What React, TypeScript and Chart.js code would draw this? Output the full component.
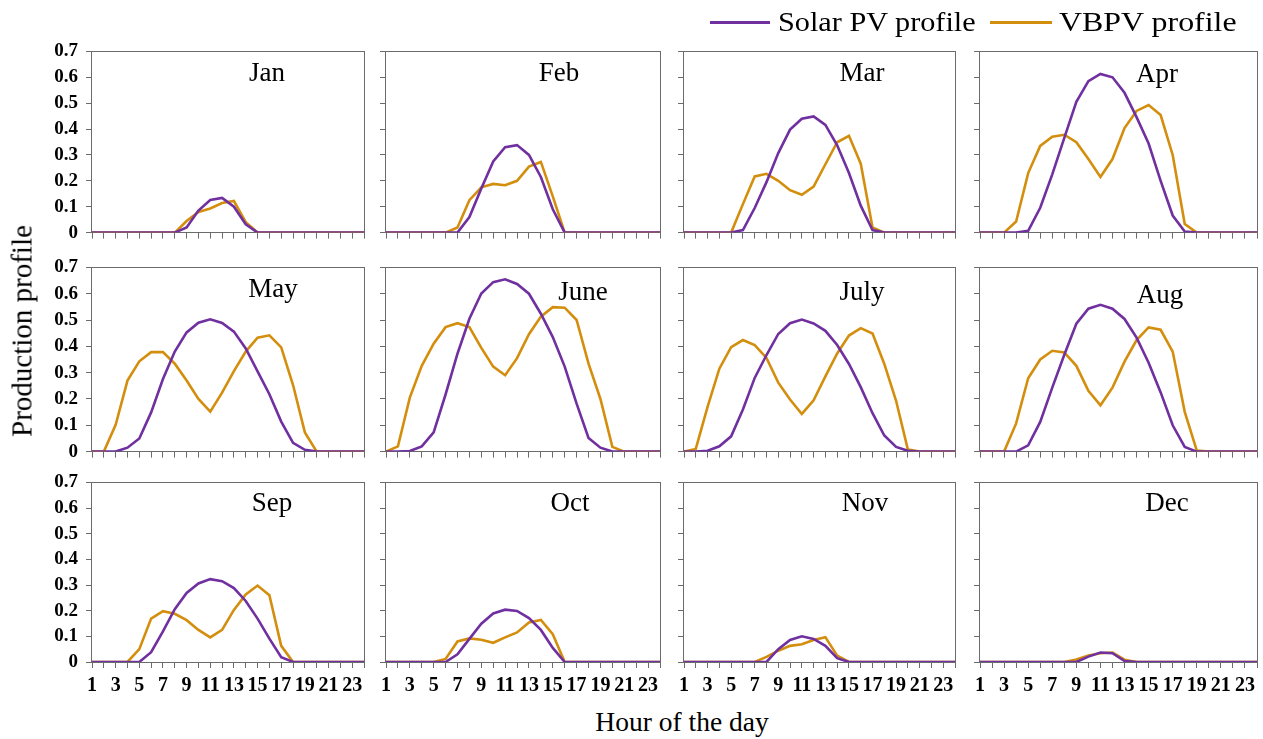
import React, { useEffect, useRef } from 'react';
import { Chart, registerables } from 'chart.js';

Chart.register(...registerables);

const HOURS = [1, 2, 3, 4, 5, 6, 7, 8, 9, 10, 11, 12, 13, 14, 15, 16, 17, 18, 19, 20, 21, 22, 23, 24];
const X_TICK_LABELS = ['1', '3', '5', '7', '9', '11', '13', '15', '17', '19', '21', '23'];
const MONTHS = ['Jan', 'Feb', 'Mar', 'Apr', 'May', 'June', 'July', 'Aug', 'Sep', 'Oct', 'Nov', 'Dec'];

// Solar PV profile (purple)
const SOLAR_JAN = [0, 0, 0, 0, 0, 0, 0, 0, 0.02, 0.085, 0.126, 0.134, 0.1, 0.032, 0, 0, 0, 0, 0, 0, 0, 0, 0, 0];
const SOLAR_FEB = [0, 0, 0, 0, 0, 0, 0, 0.06, 0.17, 0.275, 0.33, 0.338, 0.3, 0.215, 0.09, 0, 0, 0, 0, 0, 0, 0, 0, 0];
const SOLAR_MAR = [0, 0, 0, 0, 0, 0.01, 0.095, 0.195, 0.307, 0.398, 0.44, 0.449, 0.416, 0.337, 0.23, 0.104, 0.01, 0, 0, 0, 0, 0, 0, 0];
const SOLAR_APR = [0, 0, 0, 0, 0.007, 0.096, 0.225, 0.366, 0.505, 0.585, 0.613, 0.6, 0.54, 0.446, 0.344, 0.2, 0.066, 0.004, 0, 0, 0, 0, 0, 0];
const SOLAR_MAY = [0, 0, 0, 0.015, 0.05, 0.149, 0.276, 0.38, 0.453, 0.49, 0.503, 0.489, 0.456, 0.392, 0.305, 0.218, 0.114, 0.033, 0.007, 0, 0, 0, 0, 0];
const SOLAR_JUN = [0, 0, 0.002, 0.02, 0.073, 0.217, 0.372, 0.505, 0.601, 0.644, 0.655, 0.637, 0.6, 0.524, 0.435, 0.323, 0.182, 0.052, 0.015, 0, 0, 0, 0, 0];
const SOLAR_JUL = [0, 0, 0.003, 0.02, 0.058, 0.16, 0.28, 0.367, 0.447, 0.488, 0.502, 0.487, 0.459, 0.405, 0.333, 0.245, 0.146, 0.061, 0.018, 0.003, 0, 0, 0, 0];
const SOLAR_AUG = [0, 0, 0, 0, 0.024, 0.113, 0.243, 0.368, 0.486, 0.543, 0.558, 0.543, 0.504, 0.433, 0.338, 0.225, 0.1, 0.018, 0, 0, 0, 0, 0, 0];
const SOLAR_SEP = [0, 0, 0, 0, 0, 0.038, 0.119, 0.206, 0.269, 0.306, 0.323, 0.315, 0.288, 0.238, 0.169, 0.091, 0.019, 0, 0, 0, 0, 0, 0, 0];
const SOLAR_OCT = [0, 0, 0, 0, 0, 0, 0.03, 0.09, 0.149, 0.189, 0.204, 0.199, 0.171, 0.125, 0.055, 0, 0, 0, 0, 0, 0, 0, 0, 0];
const SOLAR_NOV = [0, 0, 0, 0, 0, 0, 0, 0, 0.05, 0.086, 0.1, 0.09, 0.063, 0.015, 0, 0, 0, 0, 0, 0, 0, 0, 0, 0];
const SOLAR_DEC = [0, 0, 0, 0, 0, 0, 0, 0, 0, 0.021, 0.037, 0.034, 0.004, 0, 0, 0, 0, 0, 0, 0, 0, 0, 0, 0];

// VBPV profile (orange)
const VBPV_JAN = [0, 0, 0, 0, 0, 0, 0, 0, 0.045, 0.08, 0.093, 0.114, 0.122, 0.04, 0, 0, 0, 0, 0, 0, 0, 0, 0, 0];
const VBPV_FEB = [0, 0, 0, 0, 0, 0, 0.02, 0.125, 0.175, 0.188, 0.183, 0.2, 0.255, 0.273, 0.14, 0, 0, 0, 0, 0, 0, 0, 0, 0];
const VBPV_MAR = [0, 0, 0, 0, 0, 0.11, 0.217, 0.227, 0.2, 0.164, 0.146, 0.178, 0.264, 0.349, 0.374, 0.266, 0.02, 0, 0, 0, 0, 0, 0, 0];
const VBPV_APR = [0, 0, 0, 0.043, 0.23, 0.335, 0.37, 0.378, 0.349, 0.284, 0.215, 0.284, 0.404, 0.47, 0.493, 0.454, 0.3, 0.033, 0, 0, 0, 0, 0, 0];
const VBPV_MAY = [0, 0, 0.102, 0.27, 0.343, 0.378, 0.378, 0.334, 0.27, 0.2, 0.152, 0.224, 0.306, 0.38, 0.433, 0.442, 0.396, 0.253, 0.073, 0, 0, 0, 0, 0];
const VBPV_JUN = [0, 0.02, 0.205, 0.326, 0.41, 0.473, 0.488, 0.473, 0.394, 0.323, 0.29, 0.355, 0.446, 0.513, 0.549, 0.547, 0.5, 0.334, 0.2, 0.018, 0, 0, 0, 0];
const VBPV_JUL = [0, 0.01, 0.17, 0.315, 0.397, 0.424, 0.405, 0.356, 0.262, 0.198, 0.143, 0.195, 0.286, 0.373, 0.441, 0.469, 0.449, 0.333, 0.193, 0.008, 0, 0, 0, 0];
const VBPV_AUG = [0, 0, 0, 0.107, 0.279, 0.35, 0.383, 0.377, 0.326, 0.231, 0.176, 0.243, 0.342, 0.424, 0.472, 0.463, 0.38, 0.151, 0.004, 0, 0, 0, 0, 0];
const VBPV_SEP = [0, 0, 0, 0, 0.05, 0.169, 0.198, 0.188, 0.163, 0.125, 0.096, 0.125, 0.203, 0.263, 0.298, 0.26, 0.063, 0, 0, 0, 0, 0, 0, 0];
const VBPV_OCT = [0, 0, 0, 0, 0, 0.012, 0.08, 0.092, 0.087, 0.075, 0.096, 0.115, 0.154, 0.164, 0.108, 0, 0, 0, 0, 0, 0, 0, 0, 0];
const VBPV_NOV = [0, 0, 0, 0, 0, 0, 0, 0.02, 0.044, 0.063, 0.069, 0.086, 0.097, 0.025, 0, 0, 0, 0, 0, 0, 0, 0, 0, 0];
const VBPV_DEC = [0, 0, 0, 0, 0, 0, 0, 0, 0.01, 0.025, 0.034, 0.037, 0.009, 0, 0, 0, 0, 0, 0, 0, 0, 0, 0, 0];

const SOLAR = [SOLAR_JAN, SOLAR_FEB, SOLAR_MAR, SOLAR_APR, SOLAR_MAY, SOLAR_JUN, SOLAR_JUL, SOLAR_AUG, SOLAR_SEP, SOLAR_OCT, SOLAR_NOV, SOLAR_DEC];
const VBPV = [VBPV_JAN, VBPV_FEB, VBPV_MAR, VBPV_APR, VBPV_MAY, VBPV_JUN, VBPV_JUL, VBPV_AUG, VBPV_SEP, VBPV_OCT, VBPV_NOV, VBPV_DEC];

const PURPLE = '#7030A0';
const ORANGE = '#D48E0D';
const AXIS_GREY = '#6b6b6b';
const SERIF = "'Liberation Serif', 'Times New Roman', serif";

// layout (page pixels)
const COL_X = [[92, 366], [386, 662], [684, 957], [980, 1259]];
const ROW_Y = [[44, 242], [260, 461], [475, 662]];
const LABEL_POS = [
  [267, 72], [559, 72], [862, 72], [1157, 73],
  [273, 288], [583, 291], [862, 291], [1160, 294],
  [272, 502], [570, 502], [865, 502], [1167, 502],
];

const boxPlugin = {
  id: 'panelBox',
  beforeDatasetsDraw(chart: any) {
    const { ctx, chartArea } = chart;
    const { left, top, right, bottom } = chartArea;
    ctx.save();
    ctx.strokeStyle = AXIS_GREY;
    ctx.lineWidth = 1;
    ctx.strokeRect(Math.round(left) - 0.5, Math.round(top) + 0.5, Math.round(right - left) + 1, Math.round(bottom - top));
    ctx.restore();
  },
};

function Panel({ idx }: { idx: number }) {
  const ref = useRef<HTMLCanvasElement | null>(null);
  const col = idx % 4;
  const row = Math.floor(idx / 4);
  const [px0, px1] = COL_X[col];
  const [py0, py1] = ROW_Y[row];
  const L = col === 0 ? 62 : 12;
  const T = 12;
  const R = 4;
  const B = row === 2 ? 42 : 10;
  const w = px1 - px0 + L + R;
  const h = py1 - py0 + T + B;
  const showX = row === 2;
  const showY = col === 0;

  useEffect(() => {
    const canvas = ref.current;
    if (!canvas) return;
    const chart = new Chart(canvas, {
      type: 'line',
      data: {
        datasets: [
          {
            label: 'Solar PV profile',
            data: HOURS.map((hr, i) => ({ x: hr, y: SOLAR[idx][i] })),
            borderColor: PURPLE,
            backgroundColor: PURPLE,
            borderWidth: 2.6,
            pointRadius: 0,
            tension: 0,
            fill: false,
          },
          {
            label: 'VBPV profile',
            data: HOURS.map((hr, i) => ({ x: hr, y: VBPV[idx][i] })),
            borderColor: ORANGE,
            backgroundColor: ORANGE,
            borderWidth: 2.6,
            pointRadius: 0,
            tension: 0,
            fill: false,
          },
        ],
      },
      options: {
        animation: false,
        responsive: false,
        devicePixelRatio: 1,
        layout: { autoPadding: false, padding: { top: T, right: R, left: 0, bottom: 0 } },
        plugins: { legend: { display: false }, tooltip: { enabled: false } },
        scales: {
          x: {
            type: 'linear',
            min: 1,
            max: 24,
            border: { display: false },
            grid: { drawOnChartArea: false, drawTicks: true, tickLength: 6, color: AXIS_GREY },
            ticks: {
              stepSize: 1,
              autoSkip: false,
              maxRotation: 0,
              minRotation: 0,
              padding: 6,
              color: '#000',
              font: { family: SERIF, size: 20, weight: 'bold' },
              callback: (v: any) => {
                const s = String(v);
                return showX && X_TICK_LABELS.includes(s) ? s : '';
              },
            },
            afterFit: (s: any) => {
              s.height = B;
            },
          },
          y: {
            type: 'linear',
            min: 0,
            max: 0.7,
            border: { display: false },
            grid: { drawOnChartArea: false, drawTicks: true, tickLength: 6, color: AXIS_GREY },
            ticks: {
              stepSize: 0.1,
              autoSkip: false,
              count: 8,
              padding: 8,
              color: '#000',
              font: { family: SERIF, size: 19, weight: 'bold' },
              callback: (v: any) => {
                if (!showY) return '';
                const n = Number(v);
                return Math.abs(n) < 1e-9 ? '0' : n.toFixed(1);
              },
            },
            afterFit: (s: any) => {
              s.width = L;
            },
          },
        },
      },
      plugins: [boxPlugin],
    } as any);
    return () => chart.destroy();
  }, [idx]);

  return (
    <canvas
      ref={ref}
      width={w}
      height={h}
      style={{ position: 'absolute', left: px0 - L, top: py0 - T, width: w, height: h }}
    />
  );
}

export default function App() {
  return (
    <div style={{ position: 'absolute', left: 0, top: 0, width: 1263, height: 739, background: '#fff', fontFamily: SERIF, overflow: 'hidden' }}>
      {MONTHS.map((m, i) => (
        <Panel key={m} idx={i} />
      ))}
      {MONTHS.map((m, i) => (
        <div
          key={'lbl' + m}
          style={{
            position: 'absolute',
            left: LABEL_POS[i][0],
            top: LABEL_POS[i][1],
            transform: 'translate(-50%, -50%)',
            fontSize: 27,
            lineHeight: 1,
            color: '#000',
            whiteSpace: 'nowrap',
          }}
        >
          {m}
        </div>
      ))}
      {/* legend */}
      <div style={{ position: 'absolute', left: 710, top: 21, width: 60, height: 3, background: PURPLE }} />
      <div style={{ position: 'absolute', left: 778, top: 22, transform: 'translateY(-50%) scaleX(1.08)', transformOrigin: 'left center', fontSize: 28, lineHeight: 1, whiteSpace: 'nowrap' }}>
        Solar PV profile
      </div>
      <div style={{ position: 'absolute', left: 990, top: 21, width: 62, height: 3, background: ORANGE }} />
      <div style={{ position: 'absolute', left: 1059, top: 22, transform: 'translateY(-50%) scaleX(1.14)', transformOrigin: 'left center', fontSize: 28, lineHeight: 1, whiteSpace: 'nowrap' }}>
        VBPV profile
      </div>
      {/* axis titles */}
      <div style={{ position: 'absolute', left: 682, top: 722, transform: 'translate(-50%, -50%)', fontSize: 27.5, lineHeight: 1, whiteSpace: 'nowrap' }}>
        Hour of the day
      </div>
      <div style={{ position: 'absolute', left: 22, top: 331, transform: 'translate(-50%, -50%) rotate(-90deg)', fontSize: 29, lineHeight: 1, whiteSpace: 'nowrap' }}>
        Production profile
      </div>
    </div>
  );
}
